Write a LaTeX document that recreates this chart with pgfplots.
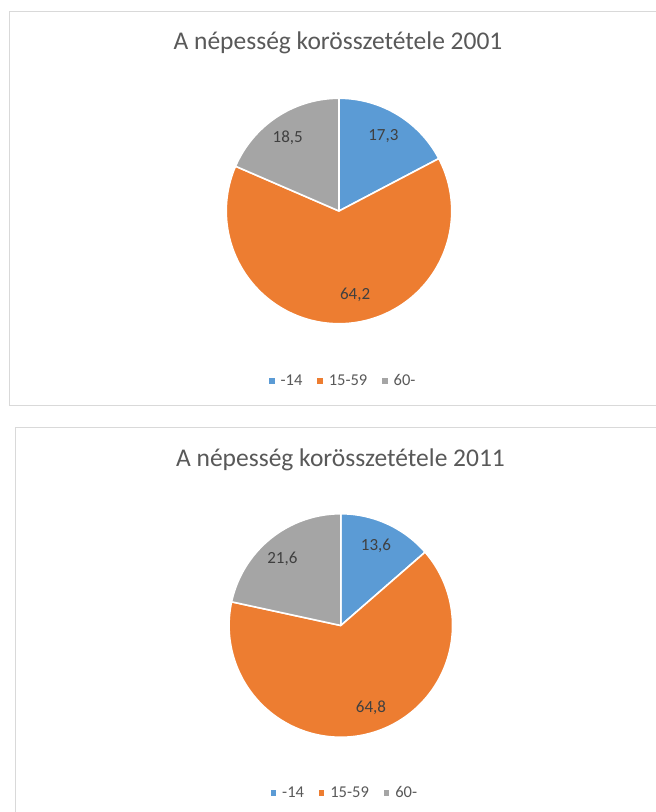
\documentclass[border=0pt]{standalone}
\usepackage{pgfplots}
\pgfplotsset{compat=1.18}
\usepackage{fontspec}
\setmainfont{Carlito}
\definecolor{cBlue}{HTML}{5B9BD5}
\definecolor{cOrange}{HTML}{ED7D31}
\definecolor{cGray}{HTML}{A5A5A5}
\definecolor{titleGray}{HTML}{595959}
\definecolor{labelGray}{HTML}{404040}
\definecolor{boxGray}{HTML}{D9D9D9}

% data (percent)
\def\aA{17.3}\def\aB{64.2}\def\aC{18.5}   % 2001: -14, 15-59, 60-
\def\bA{13.6}\def\bB{64.8}\def\bC{21.6}   % 2011: -14, 15-59, 60-

\pgfmathsetmacro\aOne{90-3.6*\aA}
\pgfmathsetmacro\aTwo{\aOne-3.6*\aB}
\pgfmathsetmacro\aThree{\aTwo-3.6*\aC}
\pgfmathsetmacro\bOne{90-3.6*\bA}
\pgfmathsetmacro\bTwo{\bOne-3.6*\bB}
\pgfmathsetmacro\bThree{\bTwo-3.6*\bC}

\pgfplotsset{
  legend image code/.code={\fill[#1,draw=none] (0pt,-2.7pt) rectangle (5.4pt,2.7pt);},
  pieaxis/.style={scale only axis, hide axis, xmin=-1, xmax=1, ymin=-1, ymax=1,
    clip=false, anchor=origin, legend columns=3,
    legend style={draw=none, fill=none, font=\fontsize{16.5}{19}\selectfont,
      text=titleGray, inner sep=0pt, nodes={inner sep=0pt},
      /tikz/every odd column/.append style={column sep=6pt},
      /tikz/every even column/.append style={column sep=15pt}}},
  slice/.style={draw=white, line width=1.6pt, samples=120, line join=round},
}

\begin{document}
\begin{tikzpicture}[x=1pt,y=1pt]
\useasboundingbox (0,0) rectangle (656,-812);
\fill[white] (0,0) rectangle (656,-812);
\clip (0,0) rectangle (656,-812);

% chart boxes
\draw[boxGray, line width=1pt] (700,-11) -- (9.5,-11) -- (9.5,-405.7) -- (700,-405.7);
\draw[boxGray, line width=1pt] (700,-427.7) -- (15.5,-427.7) -- (15.5,-900);

% titles
\node[anchor=base, text=titleGray, font=\fontsize{25.5}{30}\selectfont, inner sep=0pt]
  at (338,-49.5) {A népesség korösszetétele 2001};
\node[anchor=base, text=titleGray, font=\fontsize{25.5}{30}\selectfont, inner sep=0pt]
  at (340.5,-466) {A népesség korösszetétele 2011};

% ---- 2001 ----
\begin{axis}[pieaxis, at={(339pt,-211pt)}, width=225.5pt, height=225.5pt,
  legend style={at={(axis description cs:0.515,-0.254)}, anchor=center}]
\addplot[slice, fill=cBlue, domain=\aOne:90] ({cos(x)},{sin(x)}) -- (axis cs:0,0) -- cycle;
\addlegendentry{-14}
\addplot[slice, fill=cOrange, domain=\aTwo:\aOne] ({cos(x)},{sin(x)}) -- (axis cs:0,0) -- cycle;
\addlegendentry{15-59}
\addplot[slice, fill=cGray, domain=\aThree:\aTwo] ({cos(x)},{sin(x)}) -- (axis cs:0,0) -- cycle;
\addlegendentry{60-}
\node[text=labelGray, font=\fontsize{17}{20}\selectfont] at (axis cs:0.393,0.665) {17,3};
\node[text=labelGray, font=\fontsize{17}{20}\selectfont] at (axis cs:-0.455,0.648) {18,5};
\node[text=labelGray, font=\fontsize{17}{20}\selectfont] at (axis cs:0.143,-0.745) {64,2};
\end{axis}

% ---- 2011 ----
\begin{axis}[pieaxis, at={(340.8pt,-625.5pt)}, width=223.5pt, height=223.5pt,
  legend style={at={(axis description cs:0.514,-0.25)}, anchor=center}]
\addplot[slice, fill=cBlue, domain=\bOne:90] ({cos(x)},{sin(x)}) -- (axis cs:0,0) -- cycle;
\addlegendentry{-14}
\addplot[slice, fill=cOrange, domain=\bTwo:\bOne] ({cos(x)},{sin(x)}) -- (axis cs:0,0) -- cycle;
\addlegendentry{15-59}
\addplot[slice, fill=cGray, domain=\bThree:\bTwo] ({cos(x)},{sin(x)}) -- (axis cs:0,0) -- cycle;
\addlegendentry{60-}
\node[text=labelGray, font=\fontsize{17}{20}\selectfont] at (axis cs:0.315,0.715) {13,6};
\node[text=labelGray, font=\fontsize{17}{20}\selectfont] at (axis cs:-0.523,0.594) {21,6};
\node[text=labelGray, font=\fontsize{17}{20}\selectfont] at (axis cs:0.27,-0.735) {64,8};
\end{axis}
\end{tikzpicture}
\end{document}
